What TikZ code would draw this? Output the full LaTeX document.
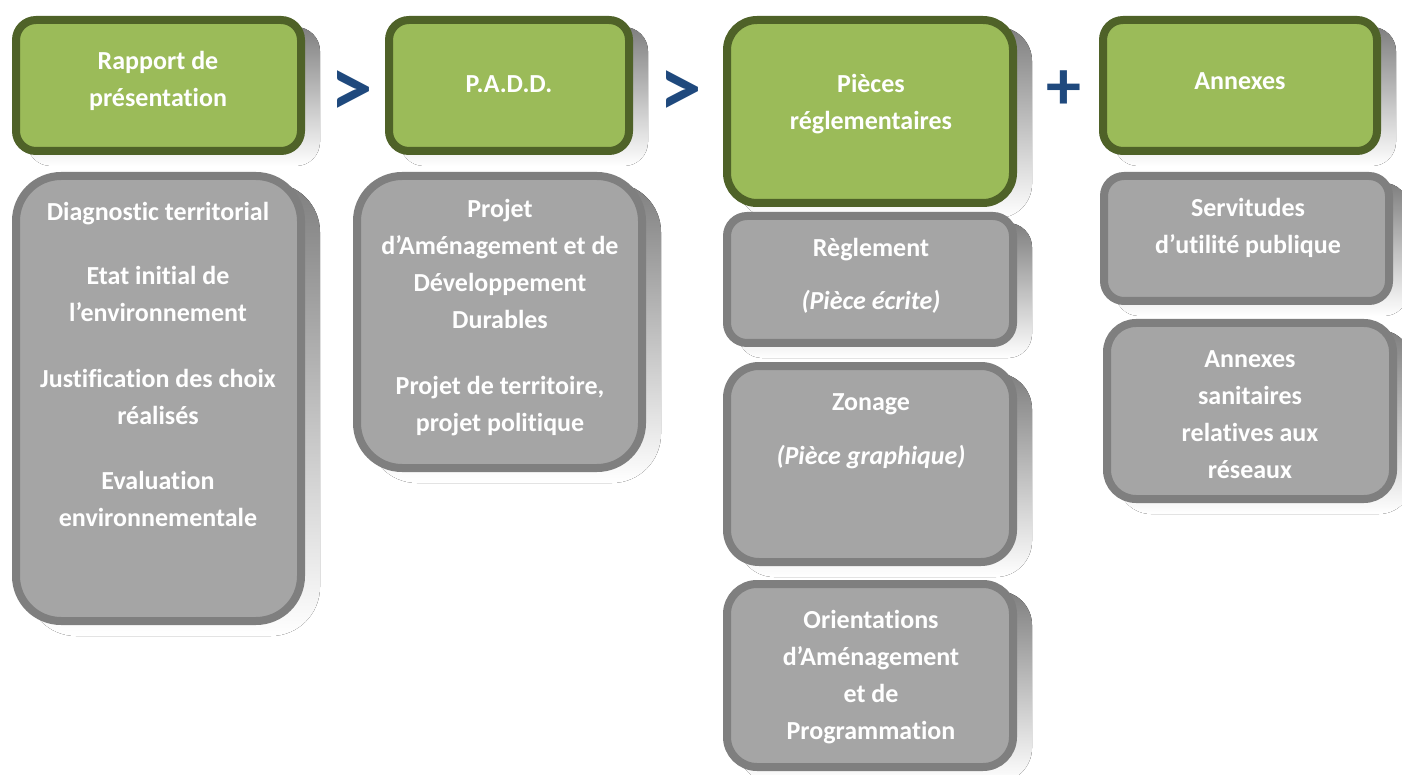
\documentclass[tikz,border=0pt]{standalone}
\usepackage{fontspec}
\setmainfont{Carlito}[Ligatures=NoCommon]
\definecolor{leaf}{HTML}{9BBB59}
\definecolor{leafline}{HTML}{4F6228}
\definecolor{stone}{HTML}{A5A5A5}
\definecolor{stoneline}{HTML}{7F7F7F}
\definecolor{shade}{HTML}{D3D3D3}
\definecolor{navy}{HTML}{1F497D}
\tikzset{
  headbox/.style={rectangle, fill=leaf, draw=leafline, line width=8pt, inner sep=0pt},
  itembox/.style={rectangle, fill=stone, draw=stoneline, line width=8pt, inner sep=0pt},
  label/.style={text=white, font=\bfseries\fontsize{26}{37}\selectfont, align=center, anchor=base, inner sep=0pt},
  sign/.style={text=navy, font=\bfseries\fontsize{85}{85}\selectfont, inner sep=0pt, anchor=base}
}
% #1 name, #2..#5 outer edges (x1,y1,x2,y2), #6 corner radius, #7 style
\newcommand\panel[7]{%
  \pgfmathsetmacro\pw{#4-#2-8}%
  \pgfmathsetmacro\ph{#5-#3-8}%
  \pgfmathsetmacro\pcx{(#2+#4)/2}%
  \pgfmathsetmacro\pcy{(#3+#5)/2}%
  \pgfmathsetmacro\sr{#6+4}%
  \fill[shade, rounded corners=\sr pt] (#2+15,#3+11) rectangle (#4+15,#5+11);
  \node[#7, rounded corners=#6pt, minimum width=\pw pt, minimum height=\ph pt] (#1) at (\pcx,\pcy) {};
}
\begin{document}
\begin{tikzpicture}[x=1pt, y=-1pt]
\useasboundingbox (0,0) rectangle (1402,775);
\clip (0,0) rectangle (1402,775);
\fill[white] (0,0) rectangle (1402,775);

% column 1
\panel{rapport}{12}{16}{305}{155}{20}{headbox}
\panel{rapportlist}{12}{172}{305}{625}{45}{itembox}
% column 2
\panel{padd}{385}{16}{633}{155}{20}{headbox}
\panel{paddlist}{353}{172}{646}{472}{45}{itembox}
% column 3
\panel{pieces}{723}{16}{1017}{207}{30}{headbox}
\panel{reglement}{723}{212}{1017}{347}{20}{itembox}
\panel{zonage}{723}{362}{1017}{566}{32}{itembox}
\panel{oap}{723}{580}{1017}{771}{30}{itembox}
% column 4
\panel{annexes}{1099}{16}{1381}{155}{20}{headbox}
\panel{servitudes}{1100}{172}{1393}{305}{20}{itembox}
\panel{sanitaires}{1103}{319}{1397}{503}{29}{itembox}

% headings (each placed by the baseline of its last line)
\node[label] (trapport) at (158,107) {Rapport de\\présentation};
\node[label] (tpadd) at (509,93) {P.A.D.D.};
\node[label] (tpieces) at (871,130) {Pièces\\réglementaires};
\node[label] (tannexes) at (1240,90) {Annexes};

% contents
\node[label] (trapportlist) at (158,526) {Diagnostic territorial\\[27pt]
  Etat initial de\\l’environnement\\[29pt]
  Justification des choix\\réalisés\\[28pt]
  Evaluation\\environnementale};
\node[label] (tpaddlist) at (500,431) {Projet\\d’Aménagement et de\\Développement\\Durables\\[29pt]
  Projet de territoire,\\projet politique};
\node[label] (treglement) at (871,310) {Règlement\\[16pt]\itshape (Pièce écrite)};
\node[label] (tzonage) at (871,464) {Zonage\\[17pt]\itshape (Pièce graphique)};
\node[label] (toap) at (871,739) {Orientations\\d’Aménagement\\et de\\Programmation};
\node[label] (tservitudes) at (1248,254) {Servitudes\\d’utilité publique};
\node[label] (tsanitaires) at (1250,478) {Annexes\\sanitaires\\relatives aux\\réseaux};

% separators between the columns
\node[sign] (gt1) at (352,117) {>};
\node[sign] (gt2) at (681,117) {>};
\node[sign, font=\bfseries\fontsize{70}{70}\selectfont] (plus) at (1064,110) {+};
\end{tikzpicture}
\end{document}
